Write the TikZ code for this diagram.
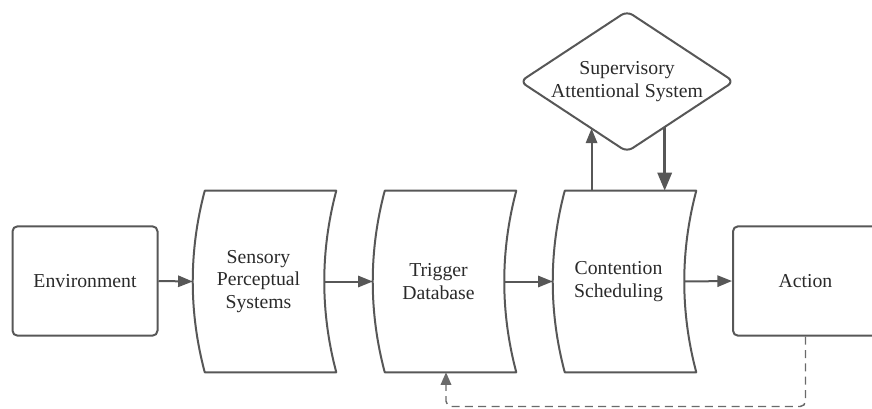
\documentclass[tikz,border=0pt]{standalone}
\usepackage{fontspec}
\setmainfont{Liberation Serif}
\usetikzlibrary{arrows.meta,calc}
\definecolor{ln}{HTML}{575757}
\definecolor{fbln}{HTML}{6A6A6A}
\definecolor{tx}{HTML}{2A2A2A}
\newcommand{\storeoutline}[1]{%
  \draw[outl] ($(#1.north west)+(12,0)$) -- ($(#1.north east)+(12,0)$)
    .. controls ($(#1.north east)+(-4,60.33)$) and ($(#1.south east)+(-4,-60.33)$) .. ($(#1.south east)+(12,0)$)
    -- ($(#1.south west)+(12,0)$)
    .. controls ($(#1.south west)+(-4,-60.33)$) and ($(#1.north west)+(-4,60.33)$) .. ($(#1.north west)+(12,0)$) -- cycle;}
\begin{document}
\begin{tikzpicture}[x=0.75pt,y=-0.75pt,
  every node/.style={font=\fontsize{14.8}{17}\selectfont, text=tx, align=center},
  box/.style={draw=ln, line width=1.5pt, rounded corners=3.75pt, minimum width=108.75pt, minimum height=82pt, inner sep=0pt},
  store/.style={minimum width=98.25pt, minimum height=135.75pt, inner sep=0pt},
  outl/.style={draw=ln, line width=1.5pt, line join=round},
  arr/.style={draw=ln, line width=1.5pt, -{Triangle[length=11pt,width=8.5pt]}},
  arrthick/.style={draw=ln, line width=2.25pt, -{Triangle[length=13.5pt,width=10.5pt]}},
  fbarr/.style={draw=fbln, line width=1.1pt, dash pattern=on 6pt off 4pt, rounded corners=4pt, -{Triangle[length=9.5pt,width=8pt]}}]
\useasboundingbox (0,0) rectangle (872,408);
% nodes
\node[box] (env) at (85,281) {Environment};
\node[store] (sp) at (258.5,281.5) {Sensory\\Perceptual\\Systems};
\node[store] (tdb) at (438.5,281.5) {Trigger\\Database};
\node[store] (cs) at (618.5,281.5) {Contention\\Scheduling};
\node[box] (act) at (805.5,281) {Action};
\node[minimum width=159.75pt, minimum height=105pt, inner sep=0pt] (sas) at (627,81.5) {Supervisory\\Attentional System};
% outlines
\storeoutline{sp}
\storeoutline{tdb}
\storeoutline{cs}
\draw[outl, rounded corners=5pt] (sas.north) -- (sas.east) -- (sas.south) -- (sas.west) -- cycle;
% connectors
\draw[arr] (env.east) -- (sp.west);
\draw[arr] (sp.east) -- (tdb.west);
\draw[arr] (tdb.east) -- (cs.west);
\draw[arr] (cs.east) -- (act.west);
\coordinate (u) at ($(sas.west)!0.668!(sas.south)$);
\coordinate (d) at ($(sas.south)!0.353!(sas.east)$);
\draw[arr] (cs.north -| u) -- (u);
\draw[arrthick] (d) -- (cs.north -| d);
\coordinate (fb) at ($(tdb.south)+(7.5,0)$);
\coordinate (low) at (0,406.5);
\draw[fbarr] (act.south) -- (act.south |- low) -- (fb |- low) -- (fb);
\end{tikzpicture}
\end{document}
